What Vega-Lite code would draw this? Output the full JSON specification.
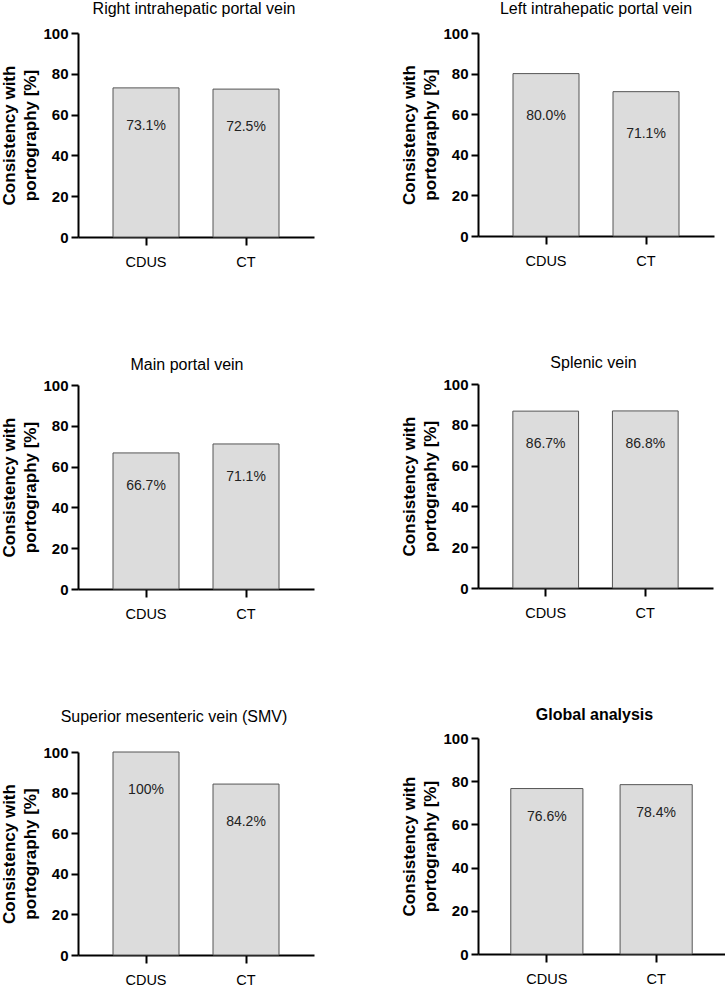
{
  "$schema": "https://vega.github.io/schema/vega-lite/v6.json",
  "padding": {"left": 0, "top": 1, "right": 0, "bottom": 0},
  "datasets": {
    "rows": [
      {"panel": "Right intrahepatic portal vein", "method": "CDUS", "value": 73.1, "label": "73.1%"},
      {"panel": "Right intrahepatic portal vein", "method": "CT", "value": 72.5, "label": "72.5%"},
      {"panel": "Left intrahepatic portal vein", "method": "CDUS", "value": 80.0, "label": "80.0%"},
      {"panel": "Left intrahepatic portal vein", "method": "CT", "value": 71.1, "label": "71.1%"},
      {"panel": "Main portal vein", "method": "CDUS", "value": 66.7, "label": "66.7%"},
      {"panel": "Main portal vein", "method": "CT", "value": 71.1, "label": "71.1%"},
      {"panel": "Splenic vein", "method": "CDUS", "value": 86.7, "label": "86.7%"},
      {"panel": "Splenic vein", "method": "CT", "value": 86.8, "label": "86.8%"},
      {"panel": "SMV", "method": "CDUS", "value": 100, "label": "100%"},
      {"panel": "SMV", "method": "CT", "value": 84.2, "label": "84.2%"},
      {"panel": "Global", "method": "CDUS", "value": 76.6, "label": "76.6%"},
      {"panel": "Global", "method": "CT", "value": 78.4, "label": "78.4%"}
    ]
  },
  "config": {
    "font": "Liberation Sans",
    "view": {"stroke": null},
    "axis": {"domainColor": "#000", "domainWidth": 2, "tickColor": "#000", "tickWidth": 2, "labelColor": "#000", "grid": false, "titleColor": "#000"},
    "axisY": {"labelFontSize": 15, "labelFontWeight": "bold", "tickSize": 7, "labelPadding": 3, "titleFontSize": 17, "titleFontWeight": "bold", "titleLineHeight": 21, "titlePadding": 3},
    "axisX": {"labelFontSize": 14.5, "tickSize": 8, "labelPadding": 10, "labelFontWeight": "normal"},
    "title": {"fontSize": 16, "fontWeight": "normal", "color": "#000", "anchor": "middle", "frame": "group"}
  },
  "spacing": 86,
  "hconcat": [
    {
      "spacing": 88,
      "vconcat": [
        {
          "width": 236, "height": 204,
          "title": {"text": "Right intrahepatic portal vein", "offset": 9, "dx": -2},
          "data": {"name": "rows"},
          "transform": [{"filter": "datum.panel === 'Right intrahepatic portal vein'"}],
          "encoding": {
            "x": {"field": "method", "type": "nominal", "sort": ["CDUS", "CT"], "scale": {"paddingInner": 0.34, "paddingOuter": 0.35}, "axis": {"title": null, "labelAngle": 0}},
            "y": {"field": "value", "type": "quantitative", "scale": {"domain": [0, 100]}, "axis": {"title": ["Consistency with", "portography [%]"], "values": [0, 20, 40, 60, 80, 100]}}
          },
          "layer": [
            {"mark": {"type": "bar", "fill": "#dcdcdc", "stroke": "#555", "strokeWidth": 1}},
            {"mark": {"type": "text", "dy": 38, "fontSize": 14, "color": "#222"}, "encoding": {"text": {"field": "label"}}}
          ]
        },
        {
          "width": 236, "height": 204,
          "title": {"text": "Main portal vein", "offset": 5, "dx": -9},
          "data": {"name": "rows"},
          "transform": [{"filter": "datum.panel === 'Main portal vein'"}],
          "encoding": {
            "x": {"field": "method", "type": "nominal", "sort": ["CDUS", "CT"], "scale": {"paddingInner": 0.34, "paddingOuter": 0.35}, "axis": {"title": null, "labelAngle": 0}},
            "y": {"field": "value", "type": "quantitative", "scale": {"domain": [0, 100]}, "axis": {"title": ["Consistency with", "portography [%]"], "values": [0, 20, 40, 60, 80, 100]}}
          },
          "layer": [
            {"mark": {"type": "bar", "fill": "#dcdcdc", "stroke": "#555", "strokeWidth": 1}},
            {"mark": {"type": "text", "dy": 33, "fontSize": 14, "color": "#222"}, "encoding": {"text": {"field": "label"}}}
          ]
        },
        {
          "width": 236, "height": 203,
          "title": {"text": "Superior mesenteric vein  (SMV)", "offset": 20, "dx": -22},
          "data": {"name": "rows"},
          "transform": [{"filter": "datum.panel === 'SMV'"}],
          "encoding": {
            "x": {"field": "method", "type": "nominal", "sort": ["CDUS", "CT"], "scale": {"paddingInner": 0.34, "paddingOuter": 0.35}, "axis": {"title": null, "labelAngle": 0}},
            "y": {"field": "value", "type": "quantitative", "scale": {"domain": [0, 100]}, "axis": {"title": ["Consistency with", "portography [%]"], "values": [0, 20, 40, 60, 80, 100]}}
          },
          "layer": [
            {"mark": {"type": "bar", "fill": "#dcdcdc", "stroke": "#555", "strokeWidth": 1}},
            {"mark": {"type": "text", "dy": 38, "fontSize": 14, "color": "#222"}, "encoding": {"text": {"field": "label"}}}
          ]
        }
      ]
    },
    {
      "spacing": 87,
      "vconcat": [
        {
          "width": 236, "height": 203,
          "title": {"text": "Left intrahepatic portal vein", "offset": 9, "dx": 0},
          "data": {"name": "rows"},
          "transform": [{"filter": "datum.panel === 'Left intrahepatic portal vein'"}],
          "encoding": {
            "x": {"field": "method", "type": "nominal", "sort": ["CDUS", "CT"], "scale": {"paddingInner": 0.34, "paddingOuter": 0.35}, "axis": {"title": null, "labelAngle": 0}},
            "y": {"field": "value", "type": "quantitative", "scale": {"domain": [0, 100]}, "axis": {"title": ["Consistency with", "portography [%]"], "values": [0, 20, 40, 60, 80, 100]}}
          },
          "layer": [
            {"mark": {"type": "bar", "fill": "#dcdcdc", "stroke": "#555", "strokeWidth": 1}},
            {"mark": {"type": "text", "dy": 42, "fontSize": 14, "color": "#222"}, "encoding": {"text": {"field": "label"}}}
          ]
        },
        {
          "width": 235, "height": 204,
          "title": {"text": "Splenic vein", "offset": 6, "dx": -2},
          "data": {"name": "rows"},
          "transform": [{"filter": "datum.panel === 'Splenic vein'"}],
          "encoding": {
            "x": {"field": "method", "type": "nominal", "sort": ["CDUS", "CT"], "scale": {"paddingInner": 0.34, "paddingOuter": 0.35}, "axis": {"title": null, "labelAngle": 0}},
            "y": {"field": "value", "type": "quantitative", "scale": {"domain": [0, 100]}, "axis": {"title": ["Consistency with", "portography [%]"], "values": [0, 20, 40, 60, 80, 100]}}
          },
          "layer": [
            {"mark": {"type": "bar", "fill": "#dcdcdc", "stroke": "#555", "strokeWidth": 1}},
            {"mark": {"type": "text", "dy": 33, "fontSize": 14, "color": "#222"}, "encoding": {"text": {"field": "label"}}}
          ]
        },
        {
          "width": 247, "height": 216,
          "title": {"text": "Global analysis", "offset": 8, "dx": -7, "fontWeight": "bold"},
          "data": {"name": "rows"},
          "transform": [{"filter": "datum.panel === 'Global'"}],
          "encoding": {
            "x": {"field": "method", "type": "nominal", "sort": ["CDUS", "CT"], "scale": {"paddingInner": 0.34, "paddingOuter": 0.3}, "axis": {"title": null, "labelAngle": 0}},
            "y": {"field": "value", "type": "quantitative", "scale": {"domain": [0, 100]}, "axis": {"title": ["Consistency with", "portography [%]"], "values": [0, 20, 40, 60, 80, 100]}}
          },
          "layer": [
            {"mark": {"type": "bar", "fill": "#dcdcdc", "stroke": "#555", "strokeWidth": 1}},
            {"mark": {"type": "text", "dy": 28, "fontSize": 14, "color": "#222"}, "encoding": {"text": {"field": "label"}}}
          ]
        }
      ]
    }
  ]
}
